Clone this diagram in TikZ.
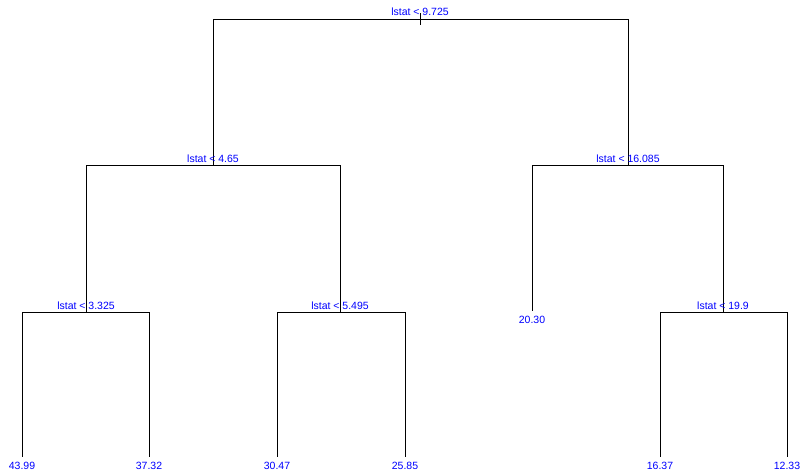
\documentclass[tikz,border=0pt]{standalone}
\usepackage{fontspec}
\setmainfont{Liberation Sans}
\usetikzlibrary{positioning}

\begin{document}
\begin{tikzpicture}[
  x=1pt, y=-1pt,
  split/.style={
    text=blue,
    inner sep=0pt,
    anchor=base,
    font=\fontsize{10.5}{12}\selectfont
  },
  leaf/.style={
    text=blue,
    inner sep=0pt,
    font=\fontsize{10.5}{12}\selectfont
  },
  branch/.style={draw=black, line width=0.9pt},
  node distance=4.5pt
]
\useasboundingbox (0,0) rectangle (803,471);

% tree nodes
\coordinate (root) at (420,19);
\coordinate (roottop) at (420,13);
\coordinate (rootbot) at (420,25);
\coordinate (n2) at (213,165);
\coordinate (n3) at (628,165);
\coordinate (n4) at (86,312);
\coordinate (n5) at (340,312);
\coordinate (n6) at (532,311);
\coordinate (n7) at (723,312);
\coordinate (n8) at (22,457);
\coordinate (n9) at (149,457);
\coordinate (n10) at (277,457);
\coordinate (n11) at (405,457);
\coordinate (n14) at (660,457);
\coordinate (n15) at (787,457);

% branches
\draw[branch] (roottop) -- (rootbot);
\draw[branch] (root) -| (n2);
\draw[branch] (root) -| (n3);
\draw[branch] (n2) -| (n4);
\draw[branch] (n2) -| (n5);
\draw[branch] (n3) -| (n6);
\draw[branch] (n3) -| (n7);
\draw[branch] (n4) -| (n8);
\draw[branch] (n4) -| (n9);
\draw[branch] (n5) -| (n10);
\draw[branch] (n5) -| (n11);
\draw[branch] (n7) -| (n14);
\draw[branch] (n7) -| (n15);

% split labels
\node[split] (s1) at ([yshift=3pt]root) {lstat < 9.725};
\node[split] (s2) at ([yshift=3pt]n2) {lstat < 4.65};
\node[split] (s3) at ([yshift=3pt]n3) {lstat < 16.085};
\node[split] (s4) at ([yshift=3pt]n4) {lstat < 3.325};
\node[split] (s5) at ([yshift=3pt]n5) {lstat < 5.495};
\node[split] (s7) at ([yshift=3pt]n7) {lstat < 19.9};

% leaf values
\node[leaf, below=of n6] (v6) {20.30};
\node[leaf, below=of n8] (v8) {43.99};
\node[leaf, below=of n9] (v9) {37.32};
\node[leaf, below=of n10] (v10) {30.47};
\node[leaf, below=of n11] (v11) {25.85};
\node[leaf, below=of n14] (v14) {16.37};
\node[leaf, below=of n15] (v15) {12.33};

\end{tikzpicture}
\end{document}
